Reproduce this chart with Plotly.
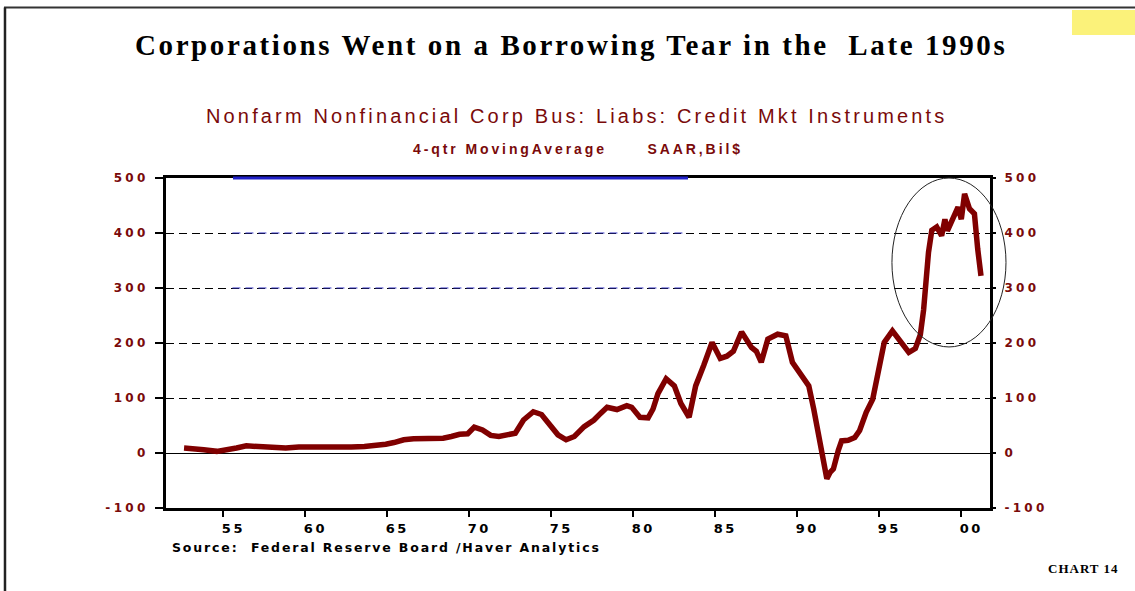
import plotly.graph_objects as go

# ---- data ----
years = [1952.6, 1953.2, 1953.8, 1954.6, 1955.2, 1955.8, 1956.4, 1957.0, 1957.8, 1958.8,
         1959.6, 1960.4, 1961.0, 1962.0, 1962.8, 1963.6, 1964.2, 1964.9, 1965.4, 1966.0,
         1966.6, 1967.2, 1967.8, 1968.4, 1968.9, 1969.4, 1969.9, 1970.3, 1970.8, 1971.3,
         1971.8, 1972.3, 1972.8, 1973.3, 1973.9, 1974.4, 1974.9, 1975.4, 1975.9, 1976.4,
         1977.0, 1977.6, 1978.0, 1978.4, 1979.0, 1979.6, 1979.9, 1980.4, 1980.9, 1981.2,
         1981.5, 1982.0, 1982.5, 1982.9, 1983.4, 1983.8, 1984.3, 1984.8, 1985.3, 1985.7,
         1986.1, 1986.6, 1987.2, 1987.5, 1987.8, 1988.2, 1988.8, 1989.3, 1989.7, 1990.0,
         1990.4, 1990.7, 1991.0, 1991.2, 1991.5, 1991.8, 1992.0, 1992.2, 1992.5, 1992.7,
         1993.1, 1993.5, 1993.8, 1994.2, 1994.6, 1995.0, 1995.3, 1995.8, 1996.3, 1996.8,
         1997.2, 1997.5, 1997.7, 1997.85, 1998.0, 1998.2, 1998.5, 1998.8, 1999.0, 1999.15,
         1999.5, 1999.8, 2000.0, 2000.2, 2000.5, 2000.8, 2001.0, 2001.2]
liabs = [9, 8, 6, 3, 5, 9, 13, 12, 11, 9,
         11, 11, 10, 9, 11, 12, 13, 16, 19, 24,
         26, 26, 28, 27, 30, 34, 35, 47, 42, 32,
         30, 32, 36, 60, 75, 70, 52, 33, 24, 30,
         48, 60, 72, 83, 79, 86, 83, 65, 64, 80,
         108, 135, 122, 90, 65, 122, 160, 201, 172, 176,
         185, 220, 192, 185, 165, 207, 216, 213, 165, 152,
         138, 122, 80, 50, 5, -47, -35, -29, 5, 22,
         23, 28, 41, 74, 98, 159, 201, 222, 201, 183,
         190, 215, 260, 320, 365, 405, 411, 395, 425, 404,
         429, 447, 425, 471, 444, 435, 371, 322]

x_tick_years = [1955, 1960, 1965, 1970, 1975, 1980, 1985, 1990, 1995, 2000]
x_tick_labels = ["55", "60", "65", "70", "75", "80", "85", "90", "95", "00"]
y_ticks = [-100, 0, 100, 200, 300, 400, 500]
y_tick_labels = ["-100", "0", "100", "200", "300", "400", "500"]

LINE_RED = "#800000"
LABEL_RED = "#7a0a0a"


def spaced(txt, px):
    return '<span style="letter-spacing:%spx">%s</span>' % (px, txt)


fig = go.Figure()
fig.add_trace(go.Scatter(x=years, y=liabs, mode="lines",
                         line=dict(color=LINE_RED, width=5.5),
                         showlegend=False, hoverinfo="skip"))
# helper invisible trace for the right axis
fig.add_trace(go.Scatter(x=[years[0]], y=[0], yaxis="y2", mode="markers",
                         marker=dict(opacity=0), showlegend=False, hoverinfo="skip"))

xr = [1951.5, 2001.75]
yr = [-100, 500]

fig.update_layout(
    width=1135, height=591,
    margin=dict(l=166, r=145, t=178, b=83),
    paper_bgcolor="white", plot_bgcolor="white",
    xaxis=dict(range=xr, showline=True, linewidth=3, linecolor="black", mirror=True,
               tickvals=x_tick_years, ticktext=[spaced(t, 2.5) for t in x_tick_labels],
               ticks="outside",
               ticklen=6, tickwidth=1.5, tickcolor="black", ticklabelshift=10,
               tickfont=dict(family="DejaVu Sans", size=13, color="black", weight="bold"),
               showgrid=False, zeroline=False),
    yaxis=dict(range=yr, showline=True, linewidth=3, linecolor="black", mirror=True,
               tickvals=y_ticks, ticktext=[spaced(t, 3.3) for t in y_tick_labels],
               ticks="outside", ticklen=8,
               tickwidth=1.5, tickcolor="black", ticklabelstandoff=4,
               tickfont=dict(family="DejaVu Sans", size=12, color=LABEL_RED, weight="bold"),
               showgrid=True, gridcolor="black", gridwidth=1, griddash="8px,5px",
               zeroline=True, zerolinecolor="black", zerolinewidth=1),
    yaxis2=dict(range=yr, overlaying="y", side="right", anchor="x",
                tickvals=y_ticks, ticktext=[spaced(t, 3.3) for t in y_tick_labels],
                ticks="outside", ticklen=5,
                tickwidth=1.5, tickcolor="black", ticklabelstandoff=6,
                tickfont=dict(family="DejaVu Sans", size=12, color=LABEL_RED, weight="bold"),
                showgrid=False, zeroline=False, showline=False),
)

shapes = []
# blue segments on top border and the 300/400 gridlines
shapes.append(dict(type="line", xref="paper", yref="paper", x0=0.0813, x1=0.6335, y0=1, y1=1,
                   line=dict(color="#2020c8", width=3)))
for gv in [300, 400]:
    shapes.append(dict(type="line", xref="x", yref="y", x0=1955.55, x1=1983.3, y0=gv, y1=gv,
                       line=dict(color="#3030c0", width=1, dash="8px,5px")))
# ellipse highlighting the late-1990s surge
shapes.append(dict(type="circle", xref="paper", yref="paper", x0=0.881, x1=1.0194,
                   y0=0.488, y1=1.0, line=dict(color="#222222", width=1)))
# outer frame lines
shapes.append(dict(type="line", xref="paper", yref="paper", x0=-0.1966, x1=1.18,
                   y0=1.5167, y1=1.5167, line=dict(color="#333333", width=2)))
shapes.append(dict(type="line", xref="paper", yref="paper", x0=-0.1954, x1=-0.1954,
                   y0=1.5167, y1=-0.26, line=dict(color="#222222", width=2.5)))
# yellow tab
shapes.append(dict(type="rect", xref="paper", yref="paper", x0=1.0995, x1=1.18,
                   y0=1.433, y1=1.509, line=dict(width=0), fillcolor="#fbf27a"))
fig.update_layout(shapes=shapes)

nb = "\u00a0"
annotations = [
    dict(text=spaced("Corporations Went on a Borrowing Tear in the" + nb * 2 + "Late 1990s", 2.6),
         x=0.4915, y=1.403, xref="paper", yref="paper", xanchor="center", yanchor="middle",
         showarrow=False,
         font=dict(family="Liberation Serif", size=29, color="black", weight="bold")),
    dict(text=spaced("Nonfarm Nonfinancial Corp Bus: Liabs: Credit Mkt Instruments", 3.15),
         x=0.4976, y=1.188, xref="paper", yref="paper", xanchor="center", yanchor="middle",
         showarrow=False,
         font=dict(family="Liberation Sans", size=20, color=LABEL_RED)),
    dict(text=spaced("4-qtr MovingAverage" + nb * 6 + "SAAR,Bil$", 2.9),
         x=0.5, y=1.088, xref="paper", yref="paper", xanchor="center", yanchor="middle",
         showarrow=False,
         font=dict(family="Liberation Sans", size=14, color=LABEL_RED, weight="bold")),
    dict(text=spaced("Source:" + nb * 2 + "Federal Reserve Board /Haver Analytics", 1.85),
         x=0.005, y=-0.121, xref="paper", yref="paper", xanchor="left", yanchor="middle",
         showarrow=False,
         font=dict(family="DejaVu Sans", size=12.5, color="black", weight="bold")),
    dict(text=spaced("CHART 14", 1),
         x=1.113, y=-0.182, xref="paper", yref="paper", xanchor="center", yanchor="middle",
         showarrow=False,
         font=dict(family="Liberation Serif", size=13, color="black", weight="bold")),
]
fig.update_layout(annotations=annotations)

fig.write_html("out.html")
